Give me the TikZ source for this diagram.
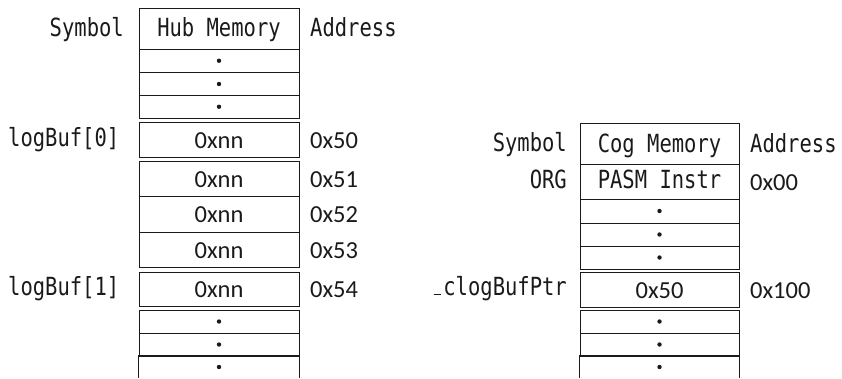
\documentclass[tikz,border=0pt]{standalone}
\usepackage{fontspec}
\newfontfamily\monof[FakeStretch=0.82]{DejaVu Sans Mono}
\newfontfamily\hexf{Carlito}
\definecolor{ink}{HTML}{1A1A1A}
\tikzset{
  cell/.style={draw=ink, line width=0.9pt, inner sep=0pt, text=ink},
  opencell/.style={inner sep=0pt},
  dotmark/.style={circle, fill=ink, inner sep=0pt, minimum size=4.4pt},
  monotxt/.style={inner sep=0pt, text=ink, font=\monof\fontsize{25}{28}\selectfont},
  hextxt/.style={inner sep=0pt, text=ink, font=\hexf\fontsize{24.5}{28}\selectfont}
}
% a cell spanning x1..x2, y1..y2 (y grows downwards)
\newcommand{\memcell}[6][cell]{%
  \node[#1, minimum width=#4-#3, minimum height=#6-#5] (#2) at ({(#3+#4)/2},{(#5+#6)/2}) {};}
% short underscore sitting on the baseline
\newcommand{\lowbar}{\makebox[12.3pt][c]{\rule[-0.4pt]{7pt}{1.3pt}}}
\begin{document}
\begin{tikzpicture}[x=1pt,y=-1pt]
\useasboundingbox (0,0) rectangle (842,378);

% ---------------- hub memory ----------------
\memcell{hubHdr}{139}{299}{8}{49}
\memcell{hA}{139}{299}{49}{72.5}
\memcell{hB}{139}{299}{72.5}{95.5}
\memcell{hC}{139}{299}{95.5}{118}
\memcell{m50}{139}{299}{122}{157}
\memcell{m51}{139}{299}{161}{196}
\memcell{m52}{139}{299}{196}{232}
\memcell{m53}{139}{299}{232}{267}
\memcell{m54}{139}{299}{272}{306}
\memcell{hD}{139}{299}{310}{333}
\memcell{hE}{139}{299}{333}{356}
\memcell[opencell]{hF}{139}{299}{356}{378}
\draw[draw=ink, line width=0.9pt] (hF.south west) -- (hF.north west) -- (hF.north east) -- (hF.south east);

\node[monotxt, anchor=base] (hubT) at (219,36.5) {Hub Memory};
\foreach \c in {hA,hB,hC,hD,hE,hF} \node[dotmark] (\c d) at (\c) {};
\foreach \c in {m50,m51,m52,m53,m54} \node[hextxt, anchor=base] (\c t) at ([yshift=-8.5pt]\c.center) {0xnn};

\node[monotxt, anchor=base east] (symL) at (124,36.5) {Symbol};
\node[monotxt, anchor=base west] (adrL) at (310,36.5) {Address};
\node[monotxt, anchor=base west] (lb0) at (8,146) {logBuf[0]};
\node[monotxt, anchor=base west] (lb1) at (8,295) {logBuf[1]};
\node[hextxt, anchor=base west] (a50) at (310,148) {0x50};
\node[hextxt, anchor=base west] (a51) at (310,187) {0x51};
\node[hextxt, anchor=base west] (a52) at (310,222.5) {0x52};
\node[hextxt, anchor=base west] (a53) at (310,258) {0x53};
\node[hextxt, anchor=base west] (a54) at (310,297.5) {0x54};

% ---------------- cog memory ----------------
\memcell{cogHdr}{580}{739}{123}{164}
\memcell{pasm}{580}{739}{164}{199}
\memcell{cA}{580}{739}{199}{223}
\memcell{cB}{580}{739}{223}{246}
\memcell{cC}{580}{739}{246}{269}
\memcell{ptr}{580}{739}{272}{307}
\memcell{cD}{580}{739}{310}{333}
\memcell{cE}{580}{739}{333}{356}
\memcell[opencell]{cF}{580}{739}{356}{378}
\draw[draw=ink, line width=0.9pt] (cF.south west) -- (cF.north west) -- (cF.north east) -- (cF.south east);

\node[monotxt, anchor=base] (cogT) at (659.5,152) {Cog Memory};
\node[monotxt, anchor=base] (pasmT) at (659.5,188) {PASM Instr};
\foreach \c in {cA,cB,cC,cD,cE,cF} \node[dotmark] (\c d) at (\c) {};
\node[hextxt, anchor=base] (ptrT) at ([yshift=-8.5pt]ptr.center) {0x50};

\node[monotxt, anchor=base east] (symR) at (567,151) {Symbol};
\node[monotxt, anchor=base west] (adrR) at (750,152) {Address};
\node[monotxt, anchor=base east] (orgR) at (567,188) {ORG};
\node[hextxt, anchor=base west] (a00) at (750,190) {0x00};
\node[monotxt, anchor=base east] (ptrS) at (567,295) {\lowbar clogBufPtr};
\node[hextxt, anchor=base west] (a100) at (750,298) {0x100};
\end{tikzpicture}
\end{document}
